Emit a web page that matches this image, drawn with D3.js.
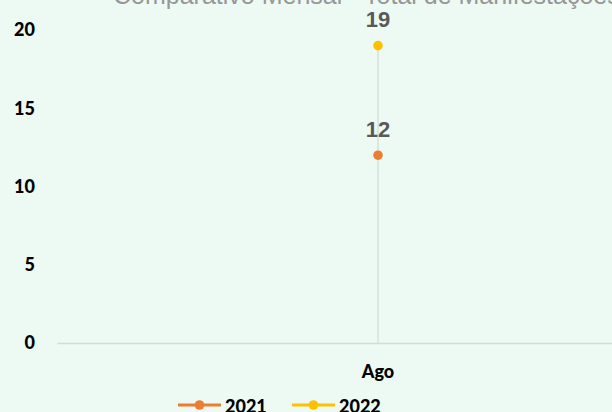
<!DOCTYPE html>
<html>
<head>
<meta charset="utf-8">
<script src="https://cdn.jsdelivr.net/npm/d3@7"></script>
<style>
  html, body { margin: 0; padding: 0; background: #ecfaf3; }
  svg { display: block; }
</style>
</head>
<body>
<svg id="chart" width="612" height="412"></svg>
<script>
const title = "Comparativo Mensal - Total de Manifestações";
const categories = ["Ago"];
const seriesNames = ["2021", "2022"];
const values2021 = [12];
const values2022 = [19];
const yTicks = [0, 5, 10, 15, 20];
const colors = ["#ED7D31", "#FFC000"];

const series = [
  { name: seriesNames[0], values: values2021, color: colors[0] },
  { name: seriesNames[1], values: values2022, color: colors[1] }
];

const svg = d3.select("#chart");
const W = 612, H = 412;
svg.append("rect").attr("width", W).attr("height", H).attr("fill", "#ecfaf3");

const x = d3.scaleBand().domain(categories).range([57, 699]);
const y = d3.scaleLinear().domain([0, 20]).range([343, 30]);

// title (cropped at top)
svg.append("text")
  .attr("x", 113).attr("y", 4)
  .attr("font-family", "Liberation Sans, Arial, sans-serif")
  .attr("font-size", 25)
  .attr("fill", "#979797")
  .text(title);

// y axis labels
const yAxis = d3.axisLeft(y).tickValues(yTicks).tickSize(0).tickPadding(0);
const gy = svg.append("g").attr("transform", "translate(35,0)").call(yAxis);
gy.select(".domain").remove();
gy.selectAll("text")
  .attr("font-family", "Lato, sans-serif")
  .attr("font-weight", "900")
  .attr("font-size", 18)
  .attr("fill", "#000");

// x axis
const xAxis = d3.axisBottom(x).tickSize(0).tickPadding(22);
const gx = svg.append("g").attr("transform", `translate(0,${y(0)})`).call(xAxis);
gx.select(".domain").attr("stroke", "#d9d9d9").attr("stroke-width", 1.5);
gx.selectAll("text")
  .attr("font-family", "Lato, sans-serif")
  .attr("font-weight", "900")
  .attr("font-size", 18)
  .attr("fill", "#000");

// drop lines
categories.forEach((c, i) => {
  const maxV = d3.max(series, s => s.values[i]);
  svg.append("line")
    .attr("x1", x(c) + x.bandwidth() / 2).attr("x2", x(c) + x.bandwidth() / 2)
    .attr("y1", y(maxV)).attr("y2", y(0))
    .attr("stroke", "#d6e0db").attr("stroke-width", 1.5);
});

// points and labels
series.forEach(s => {
  const g = svg.append("g");
  g.selectAll("circle").data(s.values).join("circle")
    .attr("cx", (d, i) => x(categories[i]) + x.bandwidth() / 2)
    .attr("cy", d => y(d))
    .attr("r", 4.8)
    .attr("fill", s.color);
  g.selectAll("text").data(s.values).join("text")
    .attr("x", (d, i) => x(categories[i]) + x.bandwidth() / 2)
    .attr("y", d => y(d) - 18.5)
    .attr("text-anchor", "middle")
    .attr("font-family", "Liberation Sans, Arial, sans-serif")
    .attr("font-weight", "bold")
    .attr("font-size", 22)
    .attr("fill", "#595959")
    .text(d => d);
});

// legend
const legendX = [178, 292];
series.forEach((s, i) => {
  const lx = legendX[i], ly = 405;
  svg.append("line").attr("x1", lx).attr("x2", lx + 43).attr("y1", ly).attr("y2", ly)
    .attr("stroke", s.color).attr("stroke-width", 3);
  svg.append("circle").attr("cx", lx + 21.5).attr("cy", ly).attr("r", 4.8).attr("fill", s.color);
  svg.append("text").attr("x", lx + 47).attr("y", ly + 8)
    .attr("font-family", "Lato, sans-serif")
    .attr("font-weight", "900")
    .attr("font-size", 18)
    .attr("fill", "#000")
    .text(s.name);
});
</script>
</body>
</html>
